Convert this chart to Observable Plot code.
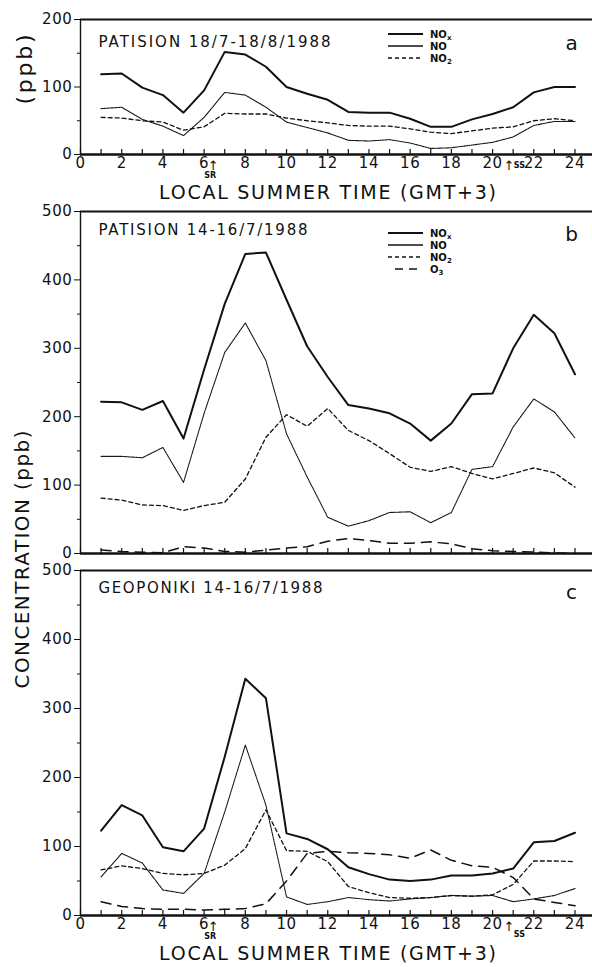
<!DOCTYPE html>
<html>
<head>
<meta charset="utf-8">
<script src="https://cdn.jsdelivr.net/npm/d3@7"></script>
<script src="https://cdn.jsdelivr.net/npm/@observablehq/plot@0.6"></script>
<style>
html,body{margin:0;padding:0;background:#fff;}
#wrap{position:relative;width:592px;height:967px;overflow:hidden;background:#fff;}
#wrap > svg{position:absolute;left:0;}
</style>
</head>
<body>
<div id="wrap"></div>
<script>
// ---------- data ----------
const hours = d3.range(1, 25);
const minorHours = d3.range(0, 25);
const xTickLabels = d3.range(0, 25, 2);
const sunrise = 6.3;
const sunset = 20.5;
const xTitle = "LOCAL SUMMER TIME (GMT+3)";
const titles = ["PATISION 18/7-18/8/1988", "PATISION 14-16/7/1988", "GEOPONIKI 14-16/7/1988"];
const letters = ["a", "b", "c"];

// panel a : Patision 18/7-18/8/1988
const aNOx = [119,120,99,88,62,95,152,148,130,100,90,81,63,62,62,53,41,41,52,60,70,92,100,100];
const aNO  = [68,70,52,42,28,55,92,88,70,48,40,32,21,20,22,17,9,10,14,18,26,43,49,49];
const aNO2 = [55,54,50,48,36,41,61,60,60,54,50,47,43,42,42,38,33,31,35,39,41,50,53,50];

// panel b : Patision 14-16/7/1988
const bNOx = [222,221,210,223,168,269,365,438,440,371,303,258,217,212,205,190,165,190,233,234,300,349,322,262];
const bNO  = [142,142,140,155,104,205,294,337,282,175,112,53,40,48,60,61,45,60,123,127,185,226,207,169];
const bNO2 = [81,78,71,70,63,70,75,109,170,203,186,212,180,165,146,126,120,127,117,109,117,125,118,97];
const bO3  = [5,3,2,1,10,8,3,2,5,8,10,18,22,19,15,15,17,14,7,4,3,2,1,0];

// panel c : Geoponiki 14-16/7/1988
const cNOx = [123,160,145,99,93,126,230,343,315,119,111,96,70,60,52,50,52,58,58,61,68,106,108,120];
const cNO  = [56,90,76,37,32,61,150,247,160,27,16,20,26,23,21,24,26,29,28,29,20,24,29,39];
const cNO2 = [66,72,68,61,59,61,73,97,153,94,93,78,42,33,26,25,26,29,28,30,45,79,79,78];
const cO3  = [20,13,10,9,9,8,9,10,17,50,90,93,91,90,88,83,95,80,72,70,55,24,19,14];

// ---------- styling ----------
const FONT = "'DejaVu Sans', sans-serif";
const INK = "#111";
const styleOf = {
  NOx: {strokeWidth: 2, dash: null},
  NO:  {strokeWidth: 1.1, dash: "1.4,0.9"},
  NO2: {strokeWidth: 1.3, dash: "4,3"},
  O3:  {strokeWidth: 1.5, dash: "10,7"}
};

const wrap = document.getElementById("wrap");

function panel(o) {
  const innerH = o.height - o.mt - o.mb;
  const lines = o.series.map(([key, values]) => {
    const rows = hours.map((h, i) => ({hour: h, v: values[i]}));
    const st = styleOf[key];
    const opts = {x: "hour", y: "v", stroke: INK, strokeWidth: st.strokeWidth, strokeLinejoin: "round"};
    if (st.dash) opts.strokeDasharray = st.dash;
    return Plot.lineY(rows, opts);
  });
  const marks = [
    Plot.ruleY([o.yMax], {stroke: INK, strokeWidth: 2}),
    Plot.ruleX([0], {stroke: INK, strokeWidth: 1.4}),
    Plot.axisY(d3.range(0, o.yMax + 1, 100), {tickSize: 6, tickPadding: 2, fontSize: 15, label: null}),
    Plot.axisY(d3.range(50, o.yMax, 100), {tickSize: 3, tickFormat: () => "", label: null}),
    Plot.tickX(minorHours, {x: d => d, insetTop: innerH - 5, stroke: INK, strokeWidth: 1.2}),
    ...lines,
    Plot.ruleY([0], {stroke: INK, strokeWidth: 2.4}),
    Plot.text([o.title], {frameAnchor: "top-left", dx: 18, dy: o.titleDy, lineAnchor: "middle", textAnchor: "start", fontSize: 15}),
    Plot.text([o.letter], {frameAnchor: "top-right", dx: -21, dy: o.letterDy, lineAnchor: "middle", textAnchor: "middle", fontSize: 20})
  ];
  if (o.showX) {
    marks.push(
      Plot.axisX(xTickLabels, {tickSize: 0, tickPadding: 3, fontSize: 15, label: null}),
      Plot.text([sunrise], {x: d => d, frameAnchor: "bottom", dx: 3, dy: 11, lineAnchor: "middle", text: () => "↑", fontSize: 13}),
      Plot.text([sunrise], {x: d => d, frameAnchor: "bottom", dx: 0, dy: o.srDy, lineAnchor: "middle", text: () => "SR", fontSize: 8, fontWeight: "bold"}),
      Plot.text([sunset], {x: d => d, frameAnchor: "bottom", dx: 6, dy: 11, lineAnchor: "middle", text: () => "↑", fontSize: 13}),
      Plot.text([sunset], {x: d => d, frameAnchor: "bottom", dx: 11, dy: o.ssDy, lineAnchor: "middle", textAnchor: "start", text: () => "SS", fontSize: 8, fontWeight: "bold"}),
      Plot.text([xTitle], {frameAnchor: "bottom", dx: -9, dy: o.xTitleDy, lineAnchor: "middle", fontSize: 19})
    );
  }
  if (o.yLabel) {
    marks.push(Plot.text([o.yLabel], {frameAnchor: "left", dx: o.yLabelDx, dy: o.yLabelDy, rotate: -90, lineAnchor: "middle", textAnchor: "middle", fontSize: o.yLabelSize}));
  }
  const svg = Plot.plot({
    width: 592, height: o.height,
    marginLeft: 80, marginRight: 0, marginTop: o.mt, marginBottom: o.mb,
    x: {domain: [0, 24.85], axis: o.showX ? undefined : null},
    y: {domain: [0, o.yMax], axis: null},
    style: {background: "transparent", overflow: "visible", fontFamily: FONT, color: INK},
    marks
  });
  svg.style.top = o.top + "px";
  const fit = (content, len) => d3.select(svg).selectAll("text")
    .filter(function () { return this.textContent === content; })
    .attr("textLength", len).attr("lengthAdjust", "spacing");
  fit(o.title, o.titleLen);
  if (o.showX) fit(xTitle, 337);
  if (o.yLabel) fit(o.yLabel, o.yLabelLen);
  d3.select(svg).selectAll("g[aria-label='y-axis tick label'] text, g[aria-label='x-axis tick label'] text")
    .style("letter-spacing", "0.6px");
  wrap.appendChild(svg);
  return svg;
}

panel({top: 0, height: 205, mt: 19, mb: 51, yMax: 200, showX: true,
  series: [["NOx", aNOx], ["NO", aNO], ["NO2", aNO2]],
  title: titles[0], titleLen: 232, titleDy: 23, letter: letters[0], letterDy: 24,
  srDy: 21, ssDy: 10.5, xTitleDy: 38,
  yLabel: "(ppb)", yLabelLen: 70, yLabelSize: 22, yLabelDx: -56, yLabelDy: -17.5});

panel({top: 195, height: 363, mt: 16, mb: 5, yMax: 500, showX: false,
  series: [["NOx", bNOx], ["NO", bNO], ["NO2", bNO2], ["O3", bO3]],
  title: titles[1], titleLen: 209, titleDy: 19, letter: letters[1], letterDy: 23,
  yLabel: "CONCENTRATION (ppb)", yLabelLen: 258, yLabelSize: 20, yLabelDx: -58, yLabelDy: 364 - (211 + 553) / 2 + 195});

panel({top: 555, height: 412, mt: 15, mb: 52, yMax: 500, showX: true,
  series: [["NOx", cNOx], ["NO", cNO], ["NO2", cNO2], ["O3", cO3]],
  title: titles[2], titleLen: 224, titleDy: 18, letter: letters[2], letterDy: 22,
  srDy: 21, ssDy: 19, xTitleDy: 38.5});

// ---------- legends ----------
function legend(top, keys) {
  const svg = d3.create("svg").attr("width", 592).attr("height", 60)
    .style("position", "absolute").style("top", top + "px").style("left", "0px")
    .style("font-family", FONT).style("overflow", "visible");
  const names = {NOx: ["NO", "x"], NO: ["NO", ""], NO2: ["NO", "2"], O3: ["O", "3"]};
  keys.forEach((k, i) => {
    const y = 6 + i * 12;
    const st = styleOf[k];
    svg.append("line").attr("x1", k === "O3" ? 395 : 388).attr("x2", 423).attr("y1", y).attr("y2", y)
      .attr("stroke", INK).attr("stroke-width", k === "NOx" ? 2 : (k === "NO" ? 1.3 : 1.4))
      .attr("stroke-dasharray", k === "NO" ? null : (k === "O3" ? "8,6" : st.dash));
    const t = svg.append("text").attr("x", 430).attr("y", y + 4).attr("font-size", 10).attr("font-weight", "bold").attr("fill", INK);
    t.append("tspan").text(names[k][0]);
    if (names[k][1]) t.append("tspan").attr("dy", 2).attr("font-size", 7).text(names[k][1]);
  });
  wrap.appendChild(svg.node());
}
legend(28, ["NOx", "NO", "NO2"]);
legend(227, ["NOx", "NO", "NO2", "O3"]);
</script>
</body>
</html>
